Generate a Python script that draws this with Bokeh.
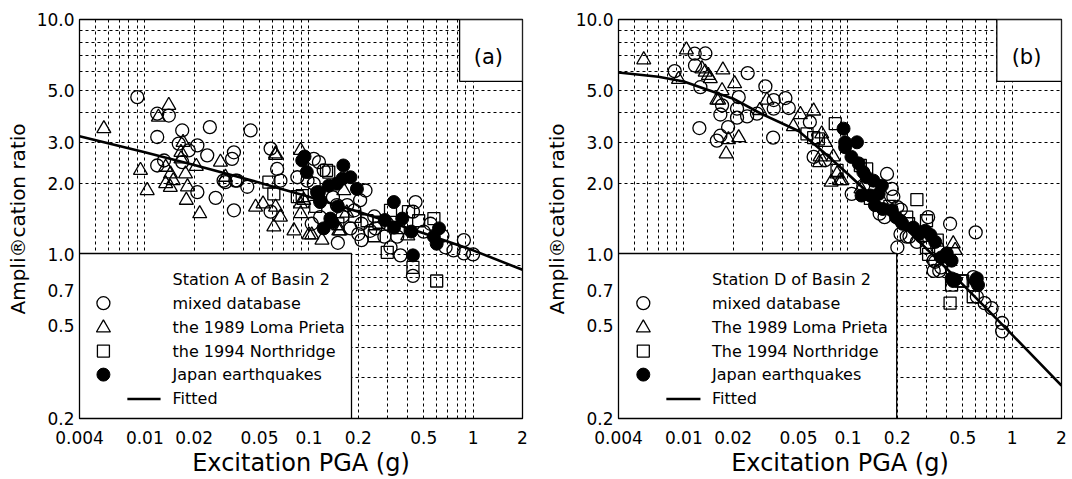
from bokeh.plotting import figure
from bokeh.layouts import row
from bokeh.models import Range1d, FixedTicker, PrintfTickFormatter, CustomJSTickFormatter
from bokeh.embed import file_html
from bokeh.resources import INLINE
from bokeh.core.properties import value

FONT = "DejaVu Sans"

# ---------------- axes / ticks ----------------
x_range_lim = [0.004, 2.0]
y_range_lim = [0.2, 10.0]
x_ticks = [0.004, 0.01, 0.02, 0.05, 0.1, 0.2, 0.5, 1, 2]
y_ticks = [0.2, 0.5, 0.7, 1.0, 2.0, 3.0, 5.0, 10.0]
x_grid = [0.005, 0.006, 0.007, 0.008, 0.009,
          0.01, 0.02, 0.03, 0.04, 0.05, 0.06, 0.07, 0.08, 0.09,
          0.1, 0.2, 0.3, 0.4, 0.5, 0.6, 0.7, 0.8, 0.9, 1.0]
y_grid = [0.3, 0.4, 0.5, 0.6, 0.7, 0.8, 0.9, 1.0,
          2.0, 3.0, 4.0, 5.0, 6.0, 7.0, 8.0, 9.0]

# ---------------- panel (a): Station A ----------------
a_mixed_x = [0.0090, 0.0119, 0.0140, 0.0119, 0.0169, 0.0249, 0.0441, 0.0161, 0.0209, 0.0185,
             0.0240, 0.0349, 0.0340, 0.0584, 0.0131, 0.0119, 0.0169, 0.0209, 0.0270, 0.0349,
             0.0310, 0.0365, 0.0421, 0.0584, 0.064, 0.067, 0.098, 0.085, 0.107, 0.115,
             0.123, 0.107, 0.221, 0.205, 0.148, 0.171, 0.189, 0.117, 0.104, 0.179,
             0.209, 0.236, 0.446, 0.43, 0.879, 0.68, 0.76, 0.879, 0.314, 0.361,
             0.43, 0.209, 0.254, 0.288, 0.345, 1.0, 0.0302, 0.0356, 0.14, 0.16,
             0.25, 0.30, 0.15, 0.20, 0.50, 0.55, 0.65]
a_mixed_y = [4.67, 3.97, 3.90, 3.16, 3.37, 3.48, 3.37, 2.96, 2.91, 2.77,
             2.64, 2.72, 2.55, 2.82, 2.51, 2.39, 2.47, 1.84, 1.74, 1.54,
             2.03, 2.06, 1.94, 1.52, 2.31, 2.06, 2.06, 2.13, 2.55, 2.47,
             2.28, 2.00, 1.87, 1.70, 1.62, 1.62, 1.54, 1.44, 1.35, 1.29,
             1.15, 1.26, 1.67, 1.52, 1.15, 1.07, 1.04, 1.01, 1.07, 0.99,
             0.81, 1.35, 1.29, 1.19, 1.19, 1.00, 2.06, 2.06, 1.75, 1.45,
             1.45, 1.35, 1.12, 1.22, 1.25, 1.35, 1.20]
a_loma_x = [0.00563, 0.0140, 0.0121, 0.0171, 0.0626, 0.0166, 0.0134, 0.0166, 0.0206, 0.0289,
            0.00941, 0.01034, 0.01434, 0.0149, 0.0134, 0.0143, 0.0177, 0.0182, 0.0179, 0.0216,
            0.031, 0.0473, 0.0525, 0.0889, 0.093, 0.0888, 0.163, 0.155, 0.104, 0.081,
            0.0611, 0.10, 0.152, 0.089, 0.067, 0.0626, 0.0626, 0.40, 0.12, 0.17]
a_loma_y = [3.43, 4.31, 3.84, 3.00, 2.64, 2.72, 2.35, 2.55, 2.37, 2.47,
            2.28, 1.87, 2.20, 2.06, 2.00, 1.93, 2.20, 1.94, 1.70, 1.49,
            2.13, 1.59, 1.64, 2.77, 1.70, 1.64, 1.87, 1.26, 1.21, 1.26,
            1.31, 1.21, 1.26, 1.49, 1.44, 1.59, 2.68, 1.20, 1.15, 1.50]
a_north_x = [0.057, 0.0611, 0.085, 0.091, 0.128, 0.132, 0.226, 0.267, 0.314, 0.404,
             0.466, 0.577, 0.300, 0.43, 0.60, 0.15, 0.19, 0.35, 0.25, 0.11]
a_north_y = [2.03, 1.81, 1.76, 1.78, 2.28, 2.24, 1.39, 1.37, 1.54, 1.52,
             1.39, 1.42, 1.02, 0.88, 0.77, 1.35, 1.45, 1.30, 1.20, 1.60]
a_japan_x = [0.091, 0.094, 0.162, 0.179, 0.196, 0.132, 0.148, 0.115, 0.117, 0.135,
             0.123, 0.329, 0.370, 0.62, 0.577, 0.60, 0.43, 0.097, 0.112, 0.117,
             0.139, 0.16, 0.15, 0.33, 0.42, 0.29]
a_japan_y = [2.51, 2.61, 2.39, 2.13, 1.90, 1.96, 2.00, 1.84, 1.67, 1.42,
             1.29, 1.67, 1.42, 1.29, 1.19, 1.11, 0.99, 2.24, 1.84, 1.70,
             1.37, 2.10, 1.60, 1.30, 1.25, 1.40]
a_fit_x = [0.004, 0.01, 0.02, 0.05, 0.1, 0.2, 0.5, 1.0, 2.0]
a_fit_y = [3.18, 2.72, 2.40, 2.02, 1.76, 1.52, 1.23, 1.04, 0.86]

# ---------------- panel (b): Station D ----------------
b_mixed_x = [0.0088, 0.01165, 0.01353, 0.0117, 0.01262, 0.0245, 0.0216, 0.0171, 0.0167, 0.0211,
             0.0211, 0.01244, 0.01861, 0.0167, 0.0159, 0.0243, 0.0279, 0.0314, 0.0353, 0.0416,
             0.0353, 0.0436, 0.0350, 0.0586, 0.0618, 0.0727, 0.1054, 0.124, 0.173, 0.185,
             0.189, 0.156, 0.167, 0.20, 0.21, 0.209, 0.237, 0.308, 0.419, 0.282,
             0.263, 0.333, 0.37, 0.35, 0.333, 0.36, 0.34, 0.60, 0.228, 0.20,
             0.58, 0.61, 0.68, 0.75, 0.87, 0.87]
b_mixed_y = [6.03, 7.15, 7.17, 6.37, 5.15, 5.91, 4.67, 4.31, 3.94, 4.17,
             3.82, 3.45, 3.48, 3.20, 3.05, 3.87, 3.97, 5.19, 4.54, 4.63,
             4.17, 4.20, 3.14, 3.66, 2.60, 2.52, 1.81, 1.96, 2.20, 1.90,
             1.76, 1.49, 1.44, 1.59, 1.55, 1.22, 1.19, 1.44, 1.35, 1.19,
             1.13, 0.94, 0.88, 1.07, 0.85, 0.85, 0.93, 1.24, 1.19, 1.07,
             0.80, 0.66, 0.62, 0.59, 0.51, 0.47]
b_loma_x = [0.0057, 0.00928, 0.01037, 0.0129, 0.0135, 0.0141, 0.0145, 0.0173, 0.0171, 0.0204,
            0.0159, 0.0187, 0.0216, 0.0181, 0.0321, 0.029, 0.0618, 0.0513, 0.0465, 0.0672,
            0.079, 0.0692, 0.0727, 0.0676, 0.0814, 0.0858, 0.0917, 0.0892, 0.0163, 0.438,
            0.45, 0.12, 0.16]
b_loma_y = [6.74, 5.56, 7.43, 6.17, 5.97, 5.78, 5.60, 6.10, 4.98, 5.33,
            4.54, 3.08, 3.14, 2.68, 4.54, 4.10, 4.08, 3.94, 3.50, 2.46,
            2.03, 3.26, 3.00, 2.60, 2.60, 2.20, 2.06, 2.06, 4.54, 1.11,
            1.04, 1.90, 1.70]
b_north_x = [0.0563, 0.0618, 0.0837, 0.066, 0.13, 0.0858, 0.119, 0.137, 0.263, 0.228,
             0.234, 0.301, 0.35, 0.301, 0.31, 0.428, 0.49, 0.419, 0.50, 0.58, 0.18]
b_north_y = [3.26, 3.14, 3.60, 3.10, 2.31, 2.28, 2.39, 1.73, 1.71, 1.44,
             1.35, 1.39, 1.15, 1.07, 1.00, 0.74, 0.77, 0.62, 0.77, 0.66, 1.60]
b_japan_x = [0.094, 0.0961, 0.1135, 0.0961, 0.1162, 0.105, 0.124, 0.130, 0.143, 0.121,
             0.137, 0.161, 0.154, 0.146, 0.163, 0.185, 0.196, 0.209, 0.215, 0.296,
             0.318, 0.34, 0.40, 0.428, 0.37, 0.428, 0.45, 0.438, 0.61, 0.62,
             0.60, 0.25, 0.27]
b_japan_y = [3.43, 3.00, 3.00, 2.86, 2.44, 2.60, 2.24, 2.13, 2.06, 1.78,
             1.78, 1.96, 1.81, 1.62, 1.56, 1.54, 1.44, 1.39, 1.35, 1.26,
             1.21, 1.13, 1.01, 0.94, 0.97, 0.79, 0.78, 0.77, 0.79, 0.74,
             0.77, 1.30, 1.22]
b_fit_x = [0.004, 0.007, 0.01, 0.02, 0.03, 0.05, 0.07, 0.1, 0.2, 0.5, 1.0, 2.0]
b_fit_y = [5.95, 5.70, 5.45, 4.60, 3.95, 3.35, 2.75, 2.20, 1.40, 0.745, 0.455, 0.276]

a_labels = ["Station A of Basin 2", "mixed database", "the 1989 Loma Prieta",
            "the 1994 Northridge", "Japan earthquakes", "Fitted"]
b_labels = ["Station D of Basin 2", "mixed database", "The 1989 Loma Prieta",
            "The 1994 Northridge", "Japan earthquakes", "Fitted"]


def fx(f):
    return x_range_lim[0] * (x_range_lim[1] / x_range_lim[0]) ** f


def fy(f):
    return y_range_lim[0] * (y_range_lim[1] / y_range_lim[0]) ** f


def panel(series, fit, labels, tag, b_left, b_right, leg_right, mk_f, tx_f, ln_f, tag_left, tag_cx):
    p = figure(x_axis_type="log", y_axis_type="log",
               x_range=Range1d(*x_range_lim), y_range=Range1d(*y_range_lim),
               frame_width=443, frame_height=399,
               min_border_left=b_left, min_border_right=b_right,
               min_border_top=19, min_border_bottom=61,
               output_backend="svg", toolbar_location=None,
               background_fill_color="white", border_fill_color="white")
    p.outline_line_color = "black"
    p.outline_line_width = 1.3

    p.xaxis.ticker = FixedTicker(ticks=x_ticks)
    p.yaxis.ticker = FixedTicker(ticks=y_ticks)
    p.xaxis.formatter = CustomJSTickFormatter(code="return String(tick);")
    p.yaxis.formatter = PrintfTickFormatter(format="%.1f")
    for ax in (p.xaxis[0], p.yaxis[0]):
        ax.major_tick_line_color = None
        ax.minor_tick_line_color = None
        ax.major_tick_out = 0
        ax.major_tick_in = 0
        ax.minor_tick_out = 0
        ax.minor_tick_in = 0
        ax.axis_line_color = "black"
        ax.major_label_text_font = FONT
        ax.major_label_text_font_size = "17px"
        ax.major_label_text_color = "black"
        ax.axis_label_text_font = FONT
        ax.axis_label_text_font_style = "normal"
        ax.axis_label_text_color = "black"
    p.xaxis.major_label_standoff = 12
    p.yaxis.major_label_standoff = 5
    p.xaxis.axis_label = "Excitation PGA (g)"
    p.xaxis.axis_label_text_font_size = "24px"
    p.xaxis.axis_label_standoff = 2
    p.yaxis.axis_label = "Ampli\u00aecation ratio"
    p.yaxis.axis_label_text_font_size = "20px"
    p.yaxis.axis_label_standoff = 4

    p.xgrid.ticker = FixedTicker(ticks=x_grid)
    p.ygrid.ticker = FixedTicker(ticks=y_grid)
    for g in (p.xgrid[0], p.ygrid[0]):
        g.grid_line_color = "black"
        g.grid_line_dash = "3 3"
        g.grid_line_width = 1

    (mx, my), (lx, ly), (nx, ny), (jx, jy) = series
    p.scatter(mx, my, marker="circle", size=13, fill_color=None, line_color="black", line_width=1.3)
    p.scatter(lx, ly, marker="triangle", size=14, fill_color=None, line_color="black", line_width=1.3)
    p.scatter(nx, ny, marker="square", size=12, fill_color=None, line_color="black", line_width=1.3)
    p.scatter(jx, jy, marker="circle", size=13, fill_color="black", line_color="black", line_width=1)
    p.line(fit[0], fit[1], line_color="black", line_width=2.6)

    # legend box
    p.quad(left=[fx(0)], right=[fx(leg_right)], bottom=[fy(0)], top=[fy(0.4135)],
           fill_color="white", line_color="black", line_width=1.3)
    rows = [0.348, 0.289, 0.227, 0.169, 0.110, 0.049]
    p.text([fx(tx_f)] * 6, [fy(r) for r in rows], text=labels,
           text_font=value(FONT), text_font_size="16px", text_align="left",
           text_baseline="middle", text_color="black")
    p.scatter([fx(mk_f)], [fy(rows[1])], marker="circle", size=13, fill_color=None, line_color="black", line_width=1.3)
    p.scatter([fx(mk_f)], [fy(rows[2])], marker="triangle", size=14, fill_color=None, line_color="black", line_width=1.3)
    p.scatter([fx(mk_f)], [fy(rows[3])], marker="square", size=12, fill_color=None, line_color="black", line_width=1.3)
    p.scatter([fx(mk_f)], [fy(rows[4])], marker="circle", size=13, fill_color="black", line_color="black")
    p.line([fx(ln_f[0]), fx(ln_f[1])], [fy(rows[5]), fy(rows[5])], line_color="black", line_width=2.6)

    # tag box
    p.quad(left=[fx(tag_left)], right=[fx(1)], bottom=[fy(0.845)], top=[fy(1)],
           fill_color="white", line_color="black", line_width=1.3)
    p.text([fx(tag_cx)], [fy(0.905)], text=[tag], text_font=value(FONT), text_font_size="21px",
           text_align="center", text_baseline="middle", text_color="black")
    return p


pa = panel([(a_mixed_x, a_mixed_y), (a_loma_x, a_loma_y), (a_north_x, a_north_y), (a_japan_x, a_japan_y)],
           (a_fit_x, a_fit_y), a_labels, "(a)", 79, 14, 0.614, 0.054, 0.21, (0.108, 0.183), 0.858, 0.923)
pb = panel([(b_mixed_x, b_mixed_y), (b_loma_x, b_loma_y), (b_north_x, b_north_y), (b_japan_x, b_japan_y)],
           (b_fit_x, b_fit_y), b_labels, "(b)", 82, 10, 0.628, 0.056, 0.211, (0.108, 0.185), 0.854, 0.921)

layout = row(pa, pb)
open("out.html", "w").write(file_html(layout, INLINE))
